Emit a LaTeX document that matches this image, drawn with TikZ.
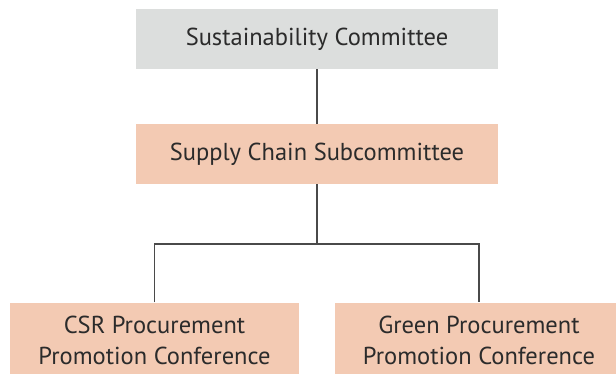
\documentclass[tikz,border=0pt]{standalone}
\usepackage{fontspec}
\setmainfont{PT Sans}
\usetikzlibrary{positioning}
\definecolor{boxgray}{HTML}{DCDEDD}
\definecolor{boxsalmon}{HTML}{F3CAB3}
\definecolor{linegray}{HTML}{4A4A4A}
\definecolor{textgray}{HTML}{2B2B2B}
\tikzset{
    unit/.style = {fill = #1, text = textgray, font = \fontsize{24.5}{31}\selectfont,
        align = center, inner sep = 0pt, minimum height = 60pt},
    link/.style = {draw = linegray, line width = 1.1pt}
}
\begin{document}
\begin{tikzpicture}[x = 1pt, y = -1pt]%
    \useasboundingbox (0, 0) rectangle (616, 373);
    \clip (0, 0) rectangle (616, 373);
    \node[unit = boxgray, minimum width = 362pt] (committee) at (317, 39) {Sustainability Committee};
    \node[unit = boxsalmon, minimum width = 362pt] (subcommittee) at (317, 154) {Supply Chain Subcommittee};
    \node[unit = boxsalmon, minimum width = 289pt, minimum height = 76pt] (csr) at (154.5, 340.5) {CSR Procurement\\Promotion Conference};
    \node[unit = boxsalmon, minimum width = 289pt, minimum height = 76pt] (green) at (479, 340.5) {Green Procurement\\Promotion Conference};
    \coordinate (branch) at (317, 244);
    \draw[link] (committee) -- (subcommittee);
    \draw[link] (subcommittee) -- (branch);
    \draw[link] (csr) |- (branch) -| (green);
\end{tikzpicture}
\end{document}
